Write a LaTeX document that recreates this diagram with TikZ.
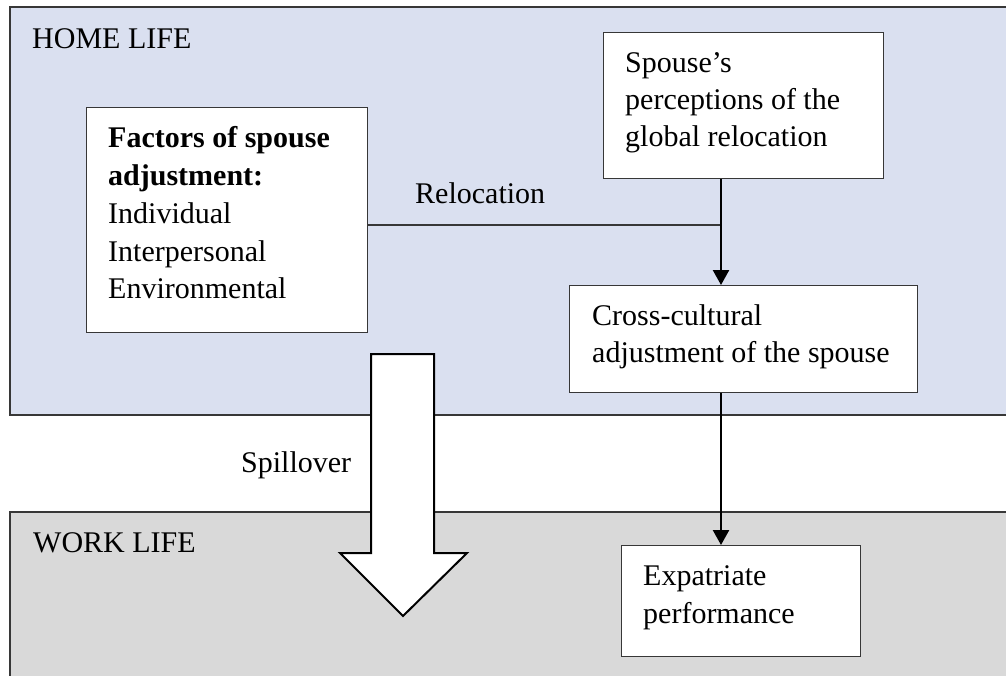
\documentclass[tikz,border=0pt]{standalone}
\usepackage{fontspec}
\setmainfont{Liberation Serif}
\usetikzlibrary{arrows.meta}
\definecolor{homefill}{RGB}{218,224,240}
\definecolor{workfill}{RGB}{217,217,217}
\definecolor{edge}{RGB}{55,55,55}
\begin{document}
\begin{tikzpicture}[x=1pt,y=-1pt,
  every node/.style={font=\fontsize{30}{37.5}\selectfont, inner sep=0pt},
  zone/.style={draw=edge, line width=1.4pt},
  box/.style={draw=edge, fill=white, line width=1.4pt, rectangle, anchor=north west, minimum width=#1},
  txt/.style={anchor=base west},
  flow/.style={draw=black, line width=2.4pt, -{Triangle[width=16pt,length=15pt]}},
  link/.style={draw=edge, line width=1.4pt}]
\useasboundingbox (0,0) rectangle (1006,675);
% zones
\fill[white] (0,0) rectangle (1006,675);
\draw[zone, fill=homefill] (10,7) rectangle (1012,415);
\draw[zone, fill=workfill] (10,512) rectangle (1012,682);
\node[txt] (home) at (32,48) {HOME LIFE};
\node[txt] (work) at (33,552) {WORK LIFE};
% boxes
\node[box=281pt, minimum height=225pt] (fac) at (86,107) {};
\node[txt] (f1) at (108,147) {\textbf{Factors of spouse}};
\node[txt] (f2) at (108,185) {\textbf{adjustment:}};
\node[txt] (f3) at (108,223) {Individual};
\node[txt] (f4) at (108,261) {Interpersonal};
\node[txt] (f5) at (108,298) {Environmental};

\node[box=280pt, minimum height=146pt] (sp) at (603,32) {};
\node[txt] (s1) at (625,72) {Spouse’s};
\node[txt] (s2) at (625,109) {perceptions of the};
\node[txt] (s3) at (625,146) {global relocation};

\node[box=348pt, minimum height=107pt] (cc) at (569,285) {};
\node[txt] (c1) at (592,325) {Cross-cultural};
\node[txt] (c2) at (592,362) {adjustment of the spouse};

\node[box=239pt, minimum height=111pt] (ex) at (621,545) {};
\node[txt] (e1) at (643,585) {Expatriate};
\node[txt] (e2) at (643,623) {performance};

% connectors
\coordinate (j) at (721,225);
\draw[link] (fac.east |- j) -- (j);
\node[txt] (rel) at (415,203) {Relocation};
\draw[flow] (sp.south -| j) -- (cc.north -| j);
\draw[flow] (cc.south -| j) -- (ex.north -| j);
% spillover arrow
\draw[line width=2pt, fill=white, line join=miter]
  (371,354) -- (434,354) -- (434,553) -- (467,553) -- (403,616) -- (340,553) -- (371,553) -- cycle;
\node[txt] (spill) at (241,472) {Spillover};
\end{tikzpicture}
\end{document}
